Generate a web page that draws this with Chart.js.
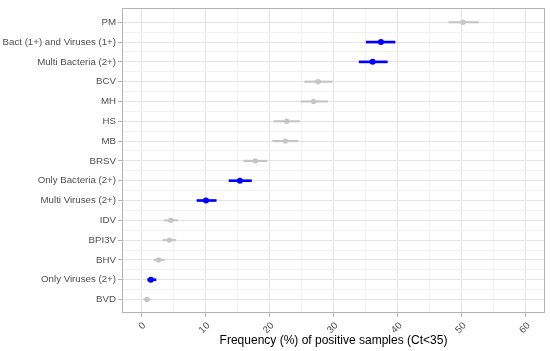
<!DOCTYPE html>
<html>
<head>
<meta charset="utf-8">
<script src="https://cdn.jsdelivr.net/npm/chart.js@4.4.1/dist/chart.umd.min.js"></script>
<style>
  html, body { margin: 0; padding: 0; background: #fff; }
  #wrap { width: 550px; height: 351px; }
</style>
</head>
<body>
<div id="wrap"><canvas id="freq"></canvas></div>
<script>
// categories top to bottom
const categories = ['PM', 'Bact (1+) and Viruses (1+)', 'Multi Bacteria (2+)', 'BCV', 'MH', 'HS', 'MB',
  'BRSV', 'Only Bacteria (2+)', 'Multi Viruses (2+)', 'IDV', 'BPI3V', 'BHV', 'Only Viruses (2+)', 'BVD'];
// frequency (%) and its interval
const freq  = [50.2, 37.4, 36.1, 27.6, 26.9, 22.7, 22.5, 17.8, 15.4, 10.1, 4.6, 4.4, 2.7, 1.5, 0.9];
const lower = [48.0, 35.1, 34.0, 25.5, 24.9, 20.7, 20.5, 16.0, 13.7,  8.7, 3.6, 3.4, 2.0, 1.0, 0.4];
const upper = [52.6, 39.6, 38.4, 29.8, 29.1, 24.7, 24.5, 19.6, 17.2, 11.7, 5.7, 5.4, 3.6, 2.3, 1.4];
// combined groups are highlighted
const combined = [false, true, true, false, false, false, false, false, true, true, false, false, false, true, false];
const xTicks = [0, 10, 20, 30, 40, 50, 60];

const GREY = '#c6c6c6';
const BLUE = '#0000ff';
const colours = combined.map(c => c ? BLUE : GREY);
const FONT = "'Liberation Sans', Arial, sans-serif";

// interval bars for one group
function intervals(flag) {
  const out = [];
  lower.forEach((lo, i) => { if (combined[i] === flag) out.push({ x: [lo, upper[i]], y: i }); });
  return out;
}

const panelBorder = {
  id: 'panelBorder',
  afterDatasetsDraw(chart) {
    const { ctx, chartArea: a } = chart;
    ctx.save();
    ctx.strokeStyle = '#b3b3b3';
    ctx.lineWidth = 1;
    ctx.strokeRect(Math.round(a.left) + 0.5, Math.round(a.top) + 0.5,
      Math.round(a.right - a.left) - 1, Math.round(a.bottom - a.top) - 1);
    ctx.restore();
  }
};

new Chart(document.getElementById('freq'), {
  type: 'scatter',
  data: {
    datasets: [
      {
        type: 'scatter',
        data: freq.map((v, i) => ({ x: v, y: i })),
        pointRadius: combined.map(c => c ? 3 : 2.7),
        pointBackgroundColor: colours,
        pointBorderWidth: 0,
        order: 0
      },
      {
        type: 'bar',
        indexAxis: 'y',
        data: intervals(false),
        backgroundColor: GREY,
        barThickness: 1.5,
        grouped: false,
        order: 2
      },
      {
        type: 'bar',
        indexAxis: 'y',
        data: intervals(true),
        backgroundColor: BLUE,
        barThickness: 2,
        grouped: false,
        order: 1
      }
    ]
  },
  options: {
    responsive: true,
    maintainAspectRatio: false,
    animation: false,
    layout: { padding: { top: 8, right: 5, left: 0, bottom: 0 } },
    plugins: { legend: { display: false }, tooltip: { enabled: false } },
    scales: {
      x: {
        type: 'linear',
        min: -3,
        max: 63,
        offset: false,
        afterBuildTicks: s => { s.ticks = []; for (let v = 0; v <= 60; v += 5) s.ticks.push({ value: v }); },
        afterFit: s => { s.height = 38; },
        grid: {
          offset: false,
          color: c => (c.tick && c.tick.value % 10 === 0) ? '#e4e4e4' : '#f1f1f1',
          tickColor: c => (c.tick && c.tick.value % 10 === 0) ? '#b3b3b3' : 'rgba(0,0,0,0)',
          tickLength: 4
        },
        border: { display: false },
        ticks: {
          minRotation: 45,
          maxRotation: 45,
          padding: 3,
          labelOffset: 3,
          color: '#4d4d4d',
          font: { family: FONT, size: 9.7 },
          callback: v => xTicks.includes(v) ? String(v) : ''
        },
        title: {
          display: true,
          text: 'Frequency (%) of positive samples (Ct<35)',
          color: '#000',
          font: { family: FONT, size: 12 },
          padding: { top: 0, bottom: 3 }
        }
      },
      y: {
        type: 'linear',
        reverse: true,
        min: -0.72,
        max: 14.68,
        offset: false,
        afterBuildTicks: s => { s.ticks = []; for (let v = 0; v <= 14; v += 0.5) s.ticks.push({ value: v }); },
        afterFit: s => { s.width = 122; },
        grid: {
          offset: false,
          color: c => (c.tick && Number.isInteger(c.tick.value)) ? '#e4e4e4' : '#f1f1f1',
          tickColor: c => (c.tick && Number.isInteger(c.tick.value)) ? '#b3b3b3' : 'rgba(0,0,0,0)',
          tickLength: 4
        },
        border: { display: false },
        ticks: {
          padding: 2,
          autoSkip: false,
          color: '#4d4d4d',
          font: { family: FONT, size: 9.7 },
          callback: v => Number.isInteger(v) ? categories[v] : ''
        }
      }
    }
  },
  plugins: [panelBorder]
});
</script>
</body>
</html>
